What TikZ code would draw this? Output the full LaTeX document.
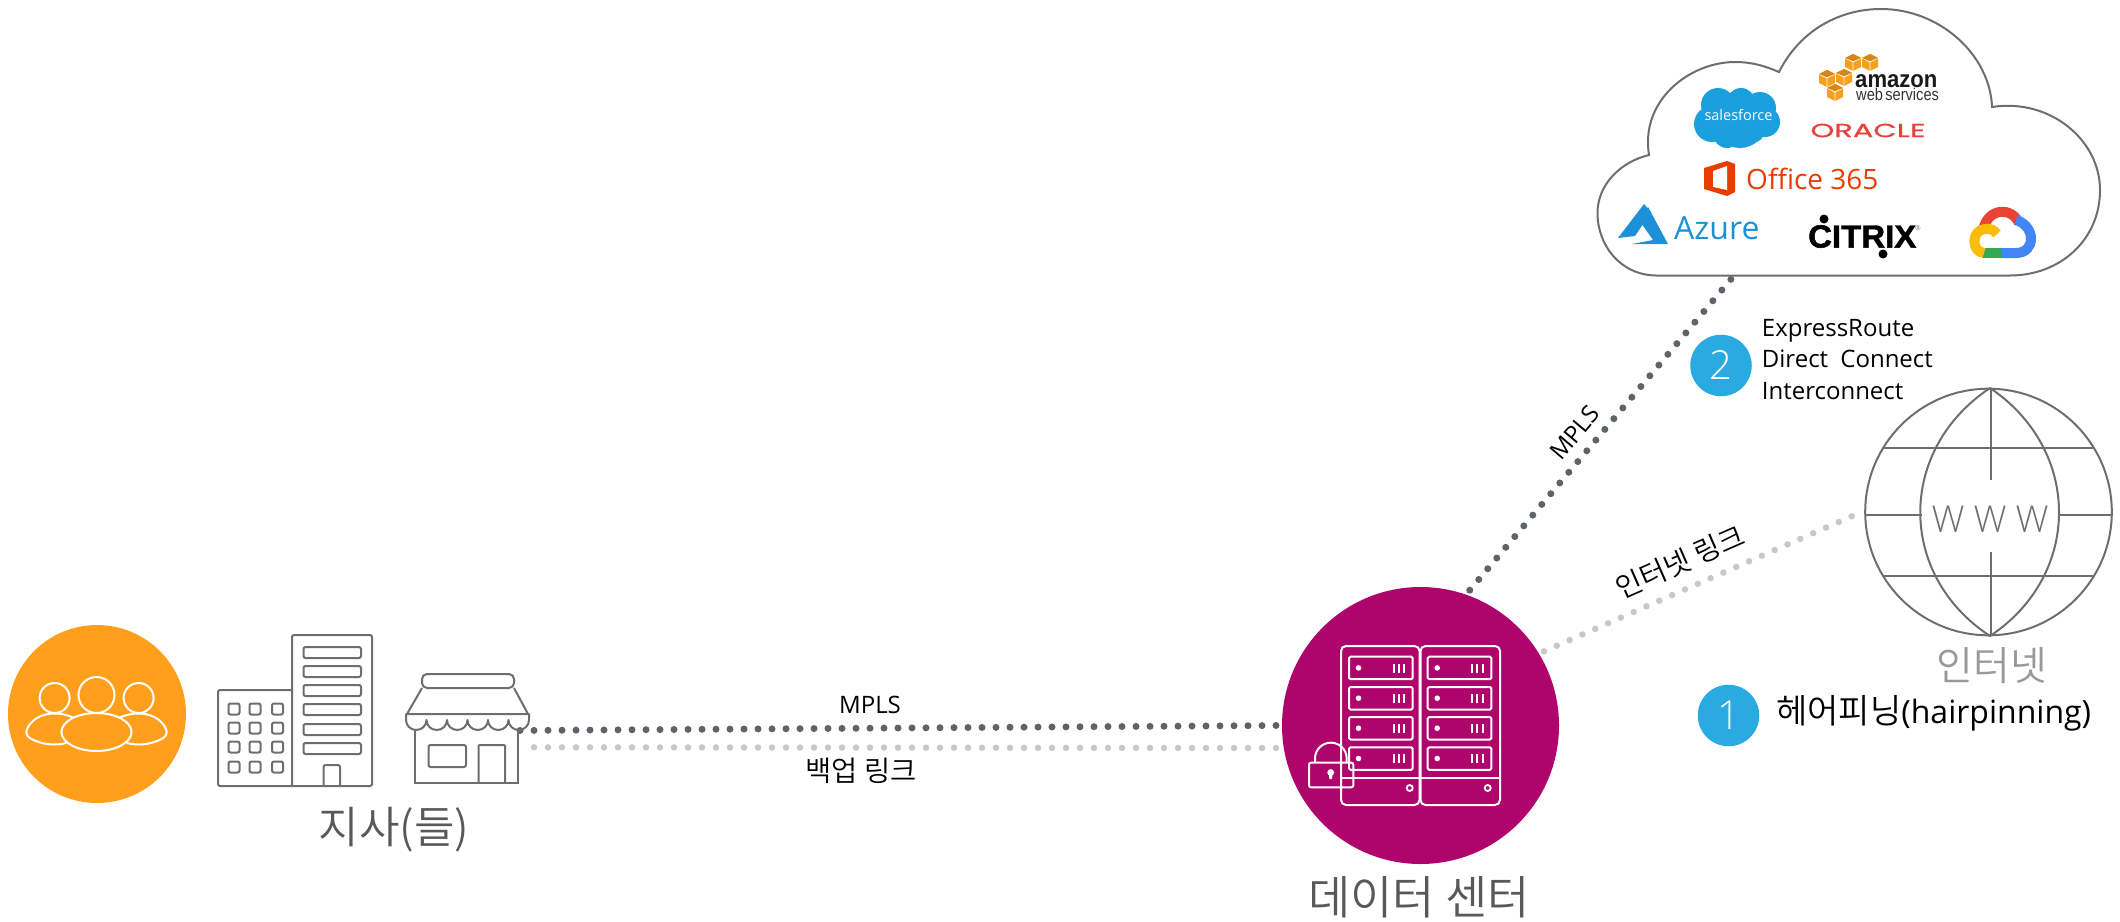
\documentclass[tikz,border=0pt]{standalone}
\usepackage{fontspec}
\setmainfont{Open Sans}
\newfontfamily\kr{Noto Sans CJK KR DemiLight}
\newfontfamily\lightsans{Open Sans Light}
\newfontfamily\pop{Poppins}
\newfontfamily\arb{Liberation Sans}
\usetikzlibrary{calc}
\definecolor{dkdot}{HTML}{5F6268}
\definecolor{ltdot}{HTML}{C8C8C8}
\definecolor{iconline}{HTML}{6E6E6E}
\definecolor{capt}{HTML}{595959}
\definecolor{orangeb}{HTML}{FF9F1C}
\definecolor{magentab}{HTML}{AE046C}
\definecolor{badge}{HTML}{29ABE2}
\definecolor{sfblue}{HTML}{1A9FDF}
\definecolor{oraclered}{HTML}{E8403A}
\definecolor{officered}{HTML}{EB3C00}
\definecolor{azureb}{HTML}{1E90D8}
\definecolor{awsor}{HTML}{F7A01E}
\definecolor{awsdk}{HTML}{D9851A}
\definecolor{gred}{HTML}{EA4335}
\definecolor{gblue}{HTML}{4285F4}
\definecolor{ggreen}{HTML}{34A853}
\definecolor{gyellow}{HTML}{FBBC05}
\tikzset{
  dotdark/.style={line width=7pt,color=dkdot,line cap=round,dash pattern=on 0pt off 14pt},
  dotlight/.style={line width=6.5pt,color=ltdot,line cap=round,dash pattern=on 0pt off 14pt},
  icon/.style={draw=iconline,line width=2pt,rounded corners=2pt},
  wline/.style={draw=white,line width=2pt,rounded corners=2pt},
  caption/.style={inner sep=0,text=capt,font=\kr\fontsize{44}{48}\selectfont},
  lab/.style={inner sep=0,text=black,font=\fontsize{24}{30}\selectfont},
  krlab/.style={inner sep=0,text=black,font=\kr\fontsize{28.5}{30}\selectfont},
  numbadge/.style={circle,fill=badge,minimum size=61.5pt,inner sep=0,text=white,font=\lightsans\fontsize{40}{44}\selectfont},
}
\newcommand{\awscube}[2]{%
  \fill[awsor] (#1,#2-8)--(#1+8,#2-4)--(#1+8,#2+5)--(#1,#2+9)--(#1-8,#2+5)--(#1-8,#2-4)--cycle;
  \draw[white,line width=.7pt] (#1-8,#2-4)--(#1,#2)--(#1+8,#2-4) (#1,#2)--(#1,#2+9);
  \fill[awsdk] (#1,#2-8)--(#1+8,#2-4)--(#1,#2-1)--(#1-8,#2-4)--cycle;}
\newcommand{\srvunit}[2]{%
  \draw[wline,rounded corners=1.5pt] (#1,#2) rectangle ++(63.7,22.5);
  \fill[white] (#1+9.5,#2+11.2) circle (2.8);
  \draw[white,line width=2pt] (#1+44.5,#2+7)--++(0,9) (#1+49.7,#2+7)--++(0,9) (#1+55,#2+7)--++(0,9);}
\begin{document}
\begin{tikzpicture}[x=1pt,y=-1pt]
\useasboundingbox (0,0) rectangle (2120,921);
% named shapes that carry the connectors
\node[circle,minimum size=277pt,inner sep=0,outer sep=5.5pt] (dc) at (1420.5,725.5) {};
\node[circle,minimum size=246.6pt,inner sep=0,outer sep=9pt] (globe) at (1988.5,512) {};
\coordinate (cloudfoot) at (1732,278);
\coordinate (shopdark) at (520,730.5);
\coordinate (shoplight) at (534,747.3);
% connectors
\draw[dotdark] (shopdark) -- (dc.west);
\draw[dotlight] (shoplight) -- (dc.189);
\draw[dotdark] (dc.70) -- (cloudfoot);
\draw[dotlight] (dc.31) -- (globe.181.7);
% people circle
\node[circle,fill=orangeb,minimum size=178pt,inner sep=0] (people) at (97,714) {};
\draw[white,line width=2pt] (96.5,695) circle (18);
\draw[white,line width=2pt] (54.6,698) circle (15);
\draw[white,line width=2pt] (138.6,698) circle (15);
\draw[white,line width=2pt] (74,718) .. controls (58,710) and (35,712) .. (27,729) .. controls (24,737) and (32,740) .. (42,743) .. controls (50,745) and (58,745) .. (66,743);
\draw[white,line width=2pt] (119,718) .. controls (135,710) and (158,712) .. (166,729) .. controls (169,737) and (161,740) .. (151,743) .. controls (143,745) and (135,745) .. (127,743);
\draw[white,line width=2pt] (96.5,732) ellipse (35 and 19);
% office buildings
\draw[icon] (293,690) -- (218,690) -- (218,786) -- (372,786) -- (372,635) -- (292,635) -- (292,786);
\foreach \yy in {647,666,685,704,724,743}{\draw[icon] (303.5,\yy) rectangle (361,\yy+11);}
\draw[icon] (323.5,786) -- (323.5,765) -- (340,765) -- (340,786);
\foreach \xx in {234,255,277.5}{\foreach \yy in {709,728,747,767}{\draw[icon] (\xx-5.5,\yy-5.5) rectangle (\xx+5.5,\yy+5.5);}}
% shop
\draw[icon,rounded corners=5pt] (422,688) -- (422,674) -- (514,674) -- (514,688) -- cycle;
\draw[icon,rounded corners=0pt,line join=round] (422,688) -- (407,714) (514,688) -- (528,714);
\draw[icon,rounded corners=0pt,line join=round] (406,714) -- (529,714) -- (529,720) arc[start angle=0,end angle=180,x radius=10.25,y radius=10] arc[start angle=0,end angle=180,x radius=10.25,y radius=10] arc[start angle=0,end angle=180,x radius=10.25,y radius=10] arc[start angle=0,end angle=180,x radius=10.25,y radius=10] arc[start angle=0,end angle=180,x radius=10.25,y radius=10] arc[start angle=0,end angle=180,x radius=10.25,y radius=10] -- cycle;
\draw[icon,rounded corners=0pt] (415,730) -- (415,783) -- (518,783) -- (518,730);
\draw[icon] (428.5,745) rectangle (466,767);
\draw[icon,rounded corners=1pt] (478.5,783) -- (478.5,745) -- (505,745) -- (505,783);
\node[caption] (branch) at (394,830) {지사(들)};
% data centre
\fill[magentab] (dc.center) circle (138.5);
\draw[wline,rounded corners=5pt] (1341,646) rectangle (1419.5,805);
\draw[wline,rounded corners=5pt] (1420.5,646) rectangle (1500,805);
\foreach \yy in {656.7,687,717,747.3}{\srvunit{1349}{\yy}\srvunit{1427.7}{\yy}}
\draw[white,line width=2pt] (1341,777.7) -- (1500,777.7);
\draw[white,line width=1.8pt] (1409.7,788) circle (3) (1487.7,788) circle (3);
\draw[wline] (1309,762.7) rectangle (1353.3,787.3);
\draw[white,line width=2pt] (1315,762.7) -- (1315,758.5) arc[start angle=180,end angle=360,radius=15.85] -- (1346.7,762.7);
\fill[white] (1330.7,772.5) circle (3.4);
\fill[white] (1328.7,773) -- (1332.7,773) -- (1332,779) -- (1329.4,779) -- cycle;
\node[caption,font=\kr\fontsize{46}{48}\selectfont] (dctext) at (1419,897) {데이터 센터};
% globe
\draw[iconline,line width=2pt] (globe.center) circle (123.3);
\draw[iconline,line width=2pt] (1990,388) .. controls (1897,450) and (1897,575) .. (1990,636) .. controls (2082,575) and (2082,450) .. (1990,388);
\draw[iconline,line width=2pt] (1883,448.3) -- (2094,448.3) (1883,576.3) -- (2094,576.3) (1865.3,515) -- (1922,515) (2058,515) -- (2111.7,515) (1991,388) -- (1991,480) (1991,552) -- (1991,636);
\node[inner sep=0,text=iconline,font=\lightsans\fontsize{37}{40}\selectfont] (www) at (1990,519.5) {W\hspace{9pt}W\hspace{9pt}W};
\node[inner sep=0,text=black!40,font=\kr\fontsize{40}{42}\selectfont] (nettext) at (1992,666) {인터넷};
% badges and notes
\node[numbadge] (one) at (1728.5,715.5) {1};
\node[numbadge] (two) at (1721,365.5) {2};
\node[inner sep=0,anchor=west,text=black,font=\fontsize{32}{36}\selectfont] (hair) at (1776,713) {{\kr\fontsize{34}{36}\selectfont 헤어피닝}(hairpinning)};
\node[lab,anchor=base west] (er) at (1761.7,336.7) {ExpressRoute};
\node[lab,anchor=base west] (dcon) at (1761.7,367.7) {Direct\hspace{6pt} Connect};
\node[lab,anchor=base west] (ic) at (1761.7,399) {Interconnect};
% link labels
\node[lab] (mplsa) at (870,705) {MPLS};
\node[krlab] (backup) at (861,770.5) {백업 링크};
\node[lab,rotate=50] (mplsb) at (1575,432.7) {MPLS};
\node[krlab,rotate=23.7] (netlink) at (1680,561.7) {인터넷 링크};
% cloud
\draw[iconline,line width=2pt,line join=miter] (1656,275.5) .. controls (1620,275) and (1597.5,245) .. (1597.5,213) .. controls (1597.5,185) and (1620,162) .. (1649,155) .. controls (1640,100) and (1690,62) .. (1735,62) .. controls (1752,62) and (1765,66) .. (1779,72) .. controls (1800,30) and (1840,9) .. (1881,9) .. controls (1940,9) and (1990,55) .. (1992,107) .. controls (2050,98) and (2100,140) .. (2100,190) .. controls (2100,240) and (2060,275.5) .. (2010,275.5) -- cycle;
% salesforce
\fill[sfblue] (1718,105) circle (17) (1741,102) circle (14) (1760,108) circle (16) (1712,124) circle (18) (1740,122) circle (26) (1765,122) circle (15) (1727,134) circle (14) (1752,130) circle (13);
\node[inner sep=0,text=white,font=\fontsize{14.5}{18}\selectfont] (sf) at (1738.5,115) {salesforce};
% aws
\awscube{1853}{62}\awscube{1870}{62}\awscube{1827}{78}\awscube{1844}{77}\awscube{1835}{92}
\node[inner sep=0,anchor=base west,font=\arb\bfseries\fontsize{24}{24}\selectfont,text=black!90] (aws1) at (1855,87) {\scalebox{.92}[1]{amazon}};
\node[inner sep=0,anchor=base west,font=\arb\fontsize{17}{18}\selectfont,text=black!80] (aws2) at (1856,100) {\scalebox{.86}[1]{web\hspace{-2pt} services}};
% oracle
\node[inner sep=0,text=oraclered,font=\pop\addfontfeature{FakeBold=0.6}\fontsize{19}{22}\selectfont] (oracle) at (1868,130.5) {\scalebox{1.6}[1]{ORACLE}};
% office
\fill[officered] (1704,168) -- (1727,161) -- (1735,164) -- (1735,192) -- (1727,196) -- (1704,189) -- cycle;
\fill[white] (1713,171) -- (1727,166) -- (1727,190) -- (1713,187) -- cycle;
\node[inner sep=0,anchor=west,text=officered,font=\fontsize{28}{30}\selectfont] (office) at (1746,179) {Office 365};
% azure
\fill[azureb] (1644,204) -- (1618,238) -- (1635,236) -- (1651,212) -- cycle;
\fill[azureb] (1648,207) -- (1668,244) -- (1632,244) -- (1653,240) -- (1641,223) -- cycle;
\node[inner sep=0,anchor=west,text=azureb,font=\fontsize{32}{34}\selectfont] (azure) at (1674,228) {Azure};
% citrix
\node[inner sep=0,anchor=west,text=black,font=\arb\bfseries\addfontfeature{FakeBold=1.5}\fontsize{32}{34}\selectfont] (citrix) at (1808,236.5) {\scalebox{1.03}[1]{CITRIX}};
\fill[black] (1824,219) circle (4.5) (1883,254) circle (4.5);
\node[inner sep=0,text=black!60,font=\arb\fontsize{7}{8}\selectfont] (reg) at (1918,228) {®};
% google cloud
\draw[gred,line width=10pt,line cap=butt] (1983,230) .. controls (1988,207) and (2012,207) .. (2019,223);
\draw[gblue,line width=10pt,line cap=butt] (2016,220) .. controls (2036,226) and (2036,253) .. (2016,253) -- (2002,253);
\draw[ggreen,line width=10pt,line cap=butt] (2002,253) -- (1982,253);
\draw[gyellow,line width=10pt,line cap=butt] (1984,253) .. controls (1971,252) and (1971,230) .. (1985,229) .. controls (1990,228) and (1994,230) .. (1997,234);
\end{tikzpicture}
\end{document}
